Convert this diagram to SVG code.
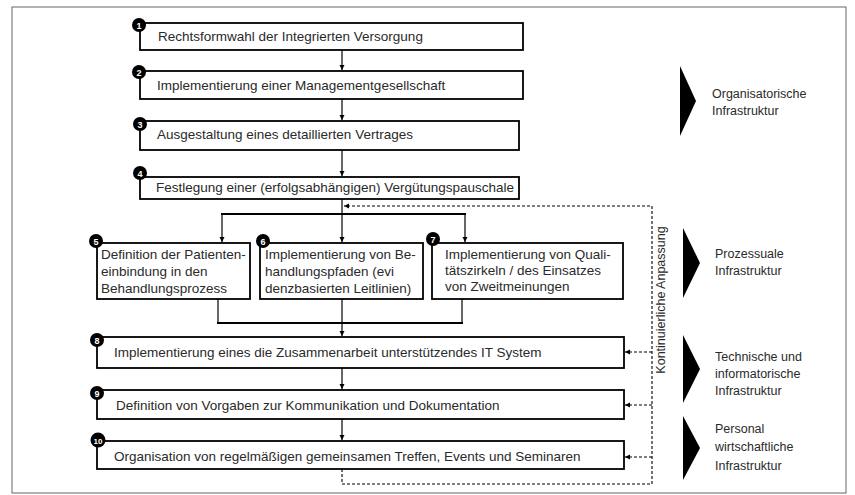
<svg xmlns="http://www.w3.org/2000/svg" width="855" height="495" viewBox="0 0 855 495">
  <style>
    .box { fill: #fff; stroke: #000; stroke-width: 1.8; }
    .txt { font-family: "Liberation Sans", Arial, sans-serif; font-size: 13.5px; fill: #2a2a2a; }
    .lbl { font-family: "Liberation Sans", Arial, sans-serif; font-size: 12.5px; fill: #2a2a2a; }
    .num { font-family: "Liberation Sans", Arial, sans-serif; font-size: 9px; font-weight: bold; fill: #fff; text-anchor: middle; }
    .dot { fill: #000; }
    .flow { fill: none; stroke: #000; stroke-width: 1.2; }
    .bar { fill: none; stroke: #000; stroke-width: 2.2; }
    .dash { fill: none; stroke: #000; stroke-width: 1.1; stroke-dasharray: 3 2; }
    .tri { fill: #000; }
  </style>
  <defs>
    <marker id="arr" markerWidth="6" markerHeight="6" refX="5" refY="3" orient="auto" markerUnits="userSpaceOnUse">
      <path d="M0,0.5 L5,3 L0,5.5 Z" fill="#000"/>
    </marker>
  </defs>

  <!-- outer frame -->
  <rect x="12" y="7" width="834" height="486" fill="none" stroke="#666" stroke-width="1"/>

  <!-- connectors -->
  <g id="connectors">
    <line class="flow" x1="342" y1="50" x2="342" y2="70" marker-end="url(#arr)"/>
    <line class="flow" x1="342" y1="99" x2="342" y2="120" marker-end="url(#arr)"/>
    <line class="flow" x1="342" y1="150" x2="342" y2="176" marker-end="url(#arr)"/>
    <!-- fan-out to 5, 6, 7 -->
    <line class="flow" x1="342" y1="199" x2="342" y2="242" marker-end="url(#arr)"/>
    <line class="bar" x1="221" y1="214" x2="466" y2="214"/>
    <line class="flow" x1="222" y1="214" x2="222" y2="242" marker-end="url(#arr)"/>
    <line class="flow" x1="465" y1="214" x2="465" y2="242" marker-end="url(#arr)"/>
    <!-- fan-in to 8 -->
    <line class="flow" x1="218" y1="299" x2="218" y2="323"/>
    <line class="flow" x1="462" y1="299" x2="462" y2="323"/>
    <line class="bar" x1="217" y1="323" x2="463" y2="323"/>
    <line class="flow" x1="342" y1="299" x2="342" y2="336" marker-end="url(#arr)"/>
    <line class="flow" x1="342" y1="368" x2="342" y2="389" marker-end="url(#arr)"/>
    <line class="flow" x1="342" y1="419" x2="342" y2="440" marker-end="url(#arr)"/>
    <!-- feedback loop -->
    <path class="dash" d="M342,469 V484 H652 V206 H344" marker-end="url(#arr)"/>
    <line class="dash" x1="652" y1="352" x2="625" y2="352" marker-end="url(#arr)"/>
    <line class="dash" x1="652" y1="405" x2="625" y2="405" marker-end="url(#arr)"/>
    <line class="dash" x1="652" y1="457" x2="625" y2="457" marker-end="url(#arr)"/>
    <text class="lbl" transform="translate(665,300) rotate(-90)" text-anchor="middle">Kontinuierliche Anpassung</text>
  </g>

  <g id="n1">
    <rect class="box" x="140" y="23" width="383" height="27"/>
    <text class="txt" x="158" y="41">Rechtsformwahl der Integrierten Versorgung</text>
    <circle class="dot" cx="139" cy="25" r="7"/><text class="num" x="139" y="28.5">1</text>
  </g>
  <g id="n2">
    <rect class="box" x="140" y="71" width="383" height="28"/>
    <text class="txt" x="157" y="90">Implementierung einer Managementgesellschaft</text>
    <circle class="dot" cx="139" cy="72" r="7"/><text class="num" x="139" y="75.5">2</text>
  </g>
  <g id="n3">
    <rect class="box" x="140" y="121" width="379" height="29"/>
    <text class="txt" x="157" y="139">Ausgestaltung eines detaillierten Vertrages</text>
    <circle class="dot" cx="140" cy="124" r="7"/><text class="num" x="140" y="127.5">3</text>
  </g>
  <g id="n4">
    <rect class="box" x="140" y="177" width="379" height="22"/>
    <text class="txt" x="156" y="192">Festlegung einer (erfolgsabhängigen) Vergütungspauschale</text>
    <circle class="dot" cx="140" cy="173" r="7"/><text class="num" x="140" y="176.5">4</text>
  </g>
  <g id="n5">
    <rect class="box" x="97" y="243" width="153" height="56"/>
    <text class="txt" x="101" y="259">Definition der Patienten-</text>
    <text class="txt" x="101" y="276">einbindung in den</text>
    <text class="txt" x="101" y="293">Behandlungsprozess</text>
    <circle class="dot" cx="96" cy="241" r="7"/><text class="num" x="96" y="244.5">5</text>
  </g>
  <g id="n6">
    <rect class="box" x="260" y="243" width="163" height="56"/>
    <text class="txt" x="265" y="259">Implementierung von Be-</text>
    <text class="txt" x="265" y="276">handlungspfaden (evi</text>
    <text class="txt" x="265" y="293">denzbasierten Leitlinien)</text>
    <circle class="dot" cx="263" cy="241" r="7"/><text class="num" x="263" y="244.5">6</text>
  </g>
  <g id="n7">
    <rect class="box" x="432" y="243" width="191" height="56"/>
    <text class="txt" x="445" y="259">Implementierung von Quali-</text>
    <text class="txt" x="445" y="275">tätszirkeln / des Einsatzes</text>
    <text class="txt" x="445" y="291">von Zweitmeinungen</text>
    <circle class="dot" cx="433" cy="239" r="7"/><text class="num" x="433" y="242.5">7</text>
  </g>
  <g id="n8">
    <rect class="box" x="97" y="337" width="527" height="31"/>
    <text class="txt" x="114" y="357">Implementierung eines die Zusammenarbeit unterstützendes IT System</text>
    <circle class="dot" cx="97" cy="340" r="7"/><text class="num" x="97" y="343.5">8</text>
  </g>
  <g id="n9">
    <rect class="box" x="97" y="390" width="527" height="29"/>
    <text class="txt" x="116" y="410">Definition von Vorgaben zur Kommunikation und Dokumentation</text>
    <circle class="dot" cx="97" cy="393" r="7"/><text class="num" x="97" y="396.5">9</text>
  </g>
  <g id="n10">
    <rect class="box" x="97" y="441" width="527" height="28"/>
    <text class="txt" x="114" y="461">Organisation von regelmäßigen gemeinsamen Treffen, Events und Seminaren</text>
    <circle class="dot" cx="98" cy="440" r="7.5"/><text class="num" x="98" y="443.5" style="font-size:8px">10</text>
  </g>

  <!-- infrastructure categories -->
  <g id="cat-org">
    <polygon class="tri" points="680,66 696,101 680,136"/>
    <text class="lbl" x="712" y="98">Organisatorische</text>
    <text class="lbl" x="712" y="115">Infrastruktur</text>
  </g>
  <g id="cat-proc">
    <polygon class="tri" points="683,228 700,263 683,298"/>
    <text class="lbl" x="715" y="258">Prozessuale</text>
    <text class="lbl" x="715" y="275">Infrastruktur</text>
  </g>
  <g id="cat-tech">
    <polygon class="tri" points="683,335 700,369 683,403"/>
    <text class="lbl" x="715" y="361">Technische und</text>
    <text class="lbl" x="715" y="378">informatorische</text>
    <text class="lbl" x="715" y="395">Infrastruktur</text>
  </g>
  <g id="cat-pers">
    <polygon class="tri" points="683,416 700,448 683,480"/>
    <text class="lbl" x="715" y="433">Personal</text>
    <text class="lbl" x="715" y="451">wirtschaftliche</text>
    <text class="lbl" x="715" y="470">Infrastruktur</text>
  </g>
</svg>
